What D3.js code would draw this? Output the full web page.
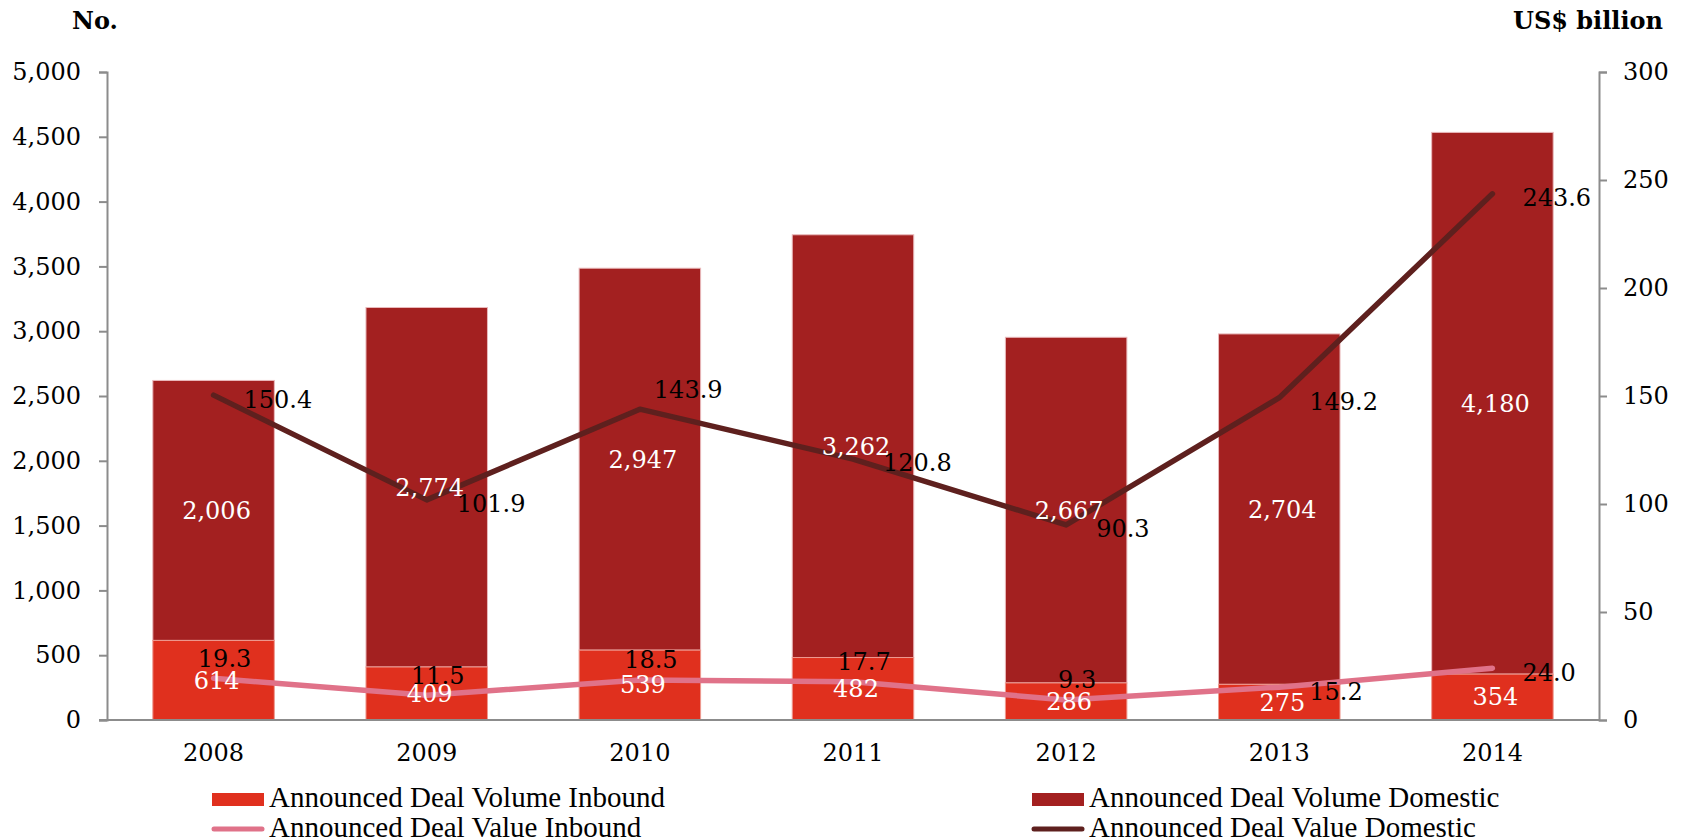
<!DOCTYPE html>
<html><head><meta charset="utf-8">
<script src="https://cdn.jsdelivr.net/npm/d3@7"></script>
<style>
html,body{margin:0;padding:0;background:#fff;}
svg{display:block;}
</style></head>
<body>
<svg id="chart" width="1688" height="840"></svg>
<script>
const years = ["2008","2009","2010","2011","2012","2013","2014"];
const volumeInbound = [614, 409, 539, 482, 286, 275, 354];
const volumeDomestic = [2006, 2774, 2947, 3262, 2667, 2704, 4180];
const valueInbound = [19.3, 11.5, 18.5, 17.7, 9.3, 15.2, 24.0];
const valueDomestic = [150.4, 101.9, 143.9, 120.8, 90.3, 149.2, 243.6];
const leftTicks = [0, 500, 1000, 1500, 2000, 2500, 3000, 3500, 4000, 4500, 5000];
const rightTicks = [0, 50, 100, 150, 200, 250, 300];
const inboundLabelPlace = ["above","above","above","above","above","right","right"];
const domesticLabelPlace = ["right","right","aboveRight","right","right","right","right"];
const legendNames = ["Announced Deal Volume Inbound","Announced Deal Volume Domestic","Announced Deal Value Inbound","Announced Deal Value Domestic"];

const C = {inb:"#E0301E", dom:"#A32020", lineInb:"#E07289", lineDom:"#5E201E", axis:"#8c8c8c"};
const numFont = "'DejaVu Serif', serif";
const legFont = "'Liberation Serif', serif";

const svg = d3.select("#chart");
const m = {left:107, right:1599, top:72, bottom:720};

const x = d3.scaleBand().domain(years).range([m.left, m.right]).paddingInner(0.43).paddingOuter(0.215);
const yL = d3.scaleLinear().domain([0,5000]).range([m.bottom, m.top]);
const yR = d3.scaleLinear().domain([0,300]).range([m.bottom, m.top]);
const cx = d => x(d) + x.bandwidth()/2;

// Bars
const g = svg.append("g");
years.forEach((yr,i)=>{
  g.append("rect").attr("x", x(yr)).attr("width", x.bandwidth())
    .attr("y", yL(volumeInbound[i]+volumeDomestic[i]))
    .attr("height", yL(volumeInbound[i]) - yL(volumeInbound[i]+volumeDomestic[i]))
    .attr("fill", C.dom).attr("stroke","#e9b9bb").attr("stroke-width",1);
  g.append("rect").attr("x", x(yr)).attr("width", x.bandwidth())
    .attr("y", yL(volumeInbound[i]))
    .attr("height", yL(0) - yL(volumeInbound[i]))
    .attr("fill", C.inb).attr("stroke","#ee9a90").attr("stroke-width",1);
});

// Axes
const axL = d3.axisLeft(yL).tickValues(leftTicks).tickSize(8).tickPadding(18).tickFormat(d3.format(","));
const axR = d3.axisRight(yR).tickValues(rightTicks).tickSize(8).tickPadding(16).tickFormat(d3.format("d"));
const axB = d3.axisBottom(x).tickSize(0).tickPadding(24);

function styleAxis(sel){
  sel.select(".domain").attr("stroke", C.axis).attr("stroke-width", 2);
  sel.selectAll(".tick line").attr("stroke", C.axis).attr("stroke-width", 2);
  sel.selectAll(".tick text").attr("fill","#000").style("font-family", numFont).style("font-size","24px");
}
svg.append("g").attr("transform",`translate(${m.left},0)`).call(axL).call(styleAxis);
svg.append("g").attr("transform",`translate(${m.right},0)`).call(axR).call(styleAxis);
const bx = svg.append("g").attr("transform",`translate(0,${m.bottom})`).call(axB).call(styleAxis);
bx.select(".domain").attr("d", `M${m.left-8},0H${m.right}`);

// Lines
const lineGen = d3.line().x((d,i)=>cx(years[i])).y(d=>yR(d));
svg.append("path").datum(valueInbound).attr("d", lineGen).attr("fill","none")
  .attr("stroke", C.lineInb).attr("stroke-width",5.5).attr("stroke-linecap","round").attr("stroke-linejoin","round");
svg.append("path").datum(valueDomestic).attr("d", lineGen).attr("fill","none")
  .attr("stroke", C.lineDom).attr("stroke-width",5.5).attr("stroke-linecap","round").attr("stroke-linejoin","round");

// Bar labels (white)
const lbl = svg.append("g").style("font-family", numFont).style("font-size","24px");
years.forEach((yr,i)=>{
  lbl.append("text").attr("x", cx(yr)+3).attr("y", yL(volumeInbound[i] + volumeDomestic[i]/2))
    .attr("dy","0.35em").attr("text-anchor","middle").attr("fill","#fff")
    .text(d3.format(",")(volumeDomestic[i]));
  lbl.append("text").attr("x", cx(yr)+3).attr("y", yL(volumeInbound[i]/2))
    .attr("dy","0.35em").attr("text-anchor","middle").attr("fill","#fff")
    .text(d3.format(",")(volumeInbound[i]));
});

// Line labels (black)
function lineLabel(vals, places){
  vals.forEach((v,i)=>{
    const px = cx(years[i]), py = yR(v);
    const t = lbl.append("text").attr("fill","#000").text(d3.format(".1f")(v));
    if (places[i]==="right"){
      t.attr("x", px+30).attr("y", py+4).attr("dy","0.35em").attr("text-anchor","start");
    } else if (places[i]==="aboveRight"){
      t.attr("x", px+14).attr("y", py-20).attr("dy","0.35em").attr("text-anchor","start");
    } else {
      t.attr("x", px+11).attr("y", py-20).attr("dy","0.35em").attr("text-anchor","middle");
    }
  });
}
lineLabel(valueInbound, inboundLabelPlace);
lineLabel(valueDomestic, domesticLabelPlace);

// Axis titles
svg.append("text").attr("x",72).attr("y",29).style("font-family", numFont).style("font-weight","bold")
  .style("font-size","24px").text("No.");
svg.append("text").attr("x",1663).attr("y",29).attr("text-anchor","end").style("font-family", numFont).style("font-weight","bold")
  .style("font-size","24px").text("US$ billion");

// Legend
const leg = svg.append("g").style("font-family", legFont).style("font-size","29px");
const legPos = [[212,799],[1032,799],[212,829],[1032,829]];
legendNames.forEach((name,i)=>{
  const [lx,ly] = legPos[i];
  if (i<2){
    leg.append("rect").attr("x",lx).attr("y",ly-6).attr("width",52).attr("height",13).attr("fill", i===0?C.inb:C.dom);
  } else {
    leg.append("line").attr("x1",lx+2).attr("x2",lx+50).attr("y1",ly).attr("y2",ly)
      .attr("stroke", i===2?C.lineInb:C.lineDom).attr("stroke-width",5).attr("stroke-linecap","round");
  }
  leg.append("text").attr("x", lx+57).attr("y", ly+8).attr("fill","#000").text(name);
});
</script>
</body></html>
